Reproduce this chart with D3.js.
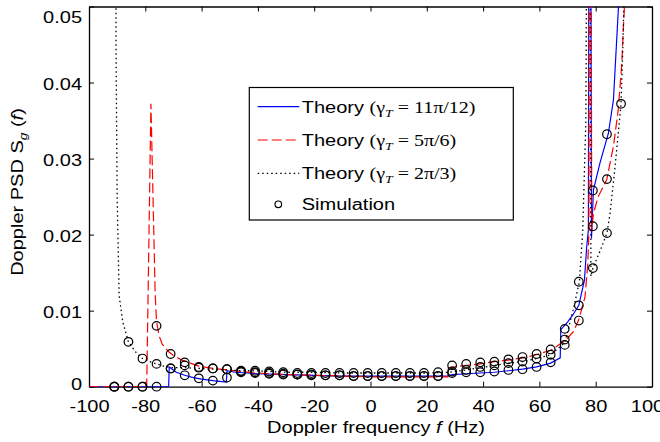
<!DOCTYPE html>
<html>
<head>
<meta charset="utf-8">
<script src="https://cdn.jsdelivr.net/npm/d3@7"></script>
<style>
  body { margin: 0; background: #fff; }
  text { font-family: "Liberation Sans", Arial, sans-serif; fill: #000; }
</style>
</head>
<body>
<div id="chart"></div>
<script>
let margin = ({top: 6.5, right: 8, bottom: 55.3, left: 89});
let width = 660 - margin.left - margin.right;
let height = 442 - margin.top - margin.bottom;

////////////////////////////////
//   Data
////////////////////////////////
let xTicks = [-100, -80, -60, -40, -20, 0, 20, 40, 60, 80, 100];
let yTicks = [0, 0.01, 0.02, 0.03, 0.04, 0.05];

// theory, gamma_T = 11pi/12 (blue, solid)
let blueF = [-100, -71.7, -71.5, -69, -66, -63, -60, -56, -51.2, -51, -48, -44, -40, -30, -20, -10, 0, 10, 20, 27.5,
  29, 34, 39, 44, 49, 54, 59, 64, 67.4, 67.6, 70, 72, 74, 76, 76.8, 77.4, 77.7, 78.1, 78.5, 79.2, 81.5, 84.5, 86.3, 88.1, 89];
let blueS = [0, 0, 0.0026, 0.0019, 0.0015, 0.0012, 0.0010, 0.0008, 0.0006, 0.0021, 0.0019, 0.0018, 0.0017, 0.0016, 0.0015, 0.0014, 0.0014, 0.0014, 0.0014, 0.0014,
  0.0016, 0.0017, 0.0018, 0.0019, 0.0021, 0.0023, 0.0026, 0.0031, 0.0038, 0.0075, 0.0085, 0.0095, 0.0107, 0.014, 0.0184, 0.0206, 0.09, 0.09, 0.0195, 0.0259, 0.0294, 0.0333, 0.0377, 0.05, 0.06];

// theory, gamma_T = 5pi/6 (red, dashed)
let redF = [-100, -79.5, -78.0, -76.5, -76, -75, -74, -72, -70, -67, -64, -61, -56, -51, -46, -41, -36, -30, -20, -10, 0, 10, 20, 27.5,
  27.7, 34, 39, 44, 49, 54, 59, 64, 69, 72, 74, 76.2, 77.2, 77.6, 77.8, 78.2, 78.6, 79.2, 80.9, 83.9, 86.3, 88, 89.2, 90.2, 90.6];
let redS = [0, 0, 0.0372, 0.0123, 0.0085, 0.0066, 0.0056, 0.0047, 0.0041, 0.0035, 0.0031, 0.0027, 0.0024, 0.0022, 0.0020, 0.0018, 0.0017, 0.0016, 0.0015, 0.0014, 0.0013, 0.0013, 0.0013, 0.0013,
  0.0025, 0.0028, 0.0030, 0.0033, 0.0035, 0.0038, 0.0042, 0.0048, 0.0060, 0.0072, 0.0088, 0.0118, 0.0162, 0.0206, 0.09, 0.09, 0.0206, 0.0228, 0.025, 0.0272, 0.0316, 0.0364, 0.0421, 0.05, 0.06];

// theory, gamma_T = 2pi/3 (black, dotted)
let blackF = [-90.6, -90.4, -90, -89.3, -88, -86, -83.5, -81, -78.5, -76, -73.5, -71, -66, -61, -56, -51, -46, -41, -36, -30, -20, -10, 0, 10, 20, 28,
  34, 39, 44, 49, 54, 59, 64, 69, 72, 74.2, 75.4, 76.5, 77.2, 77.8, 78.3, 79, 81.5, 84, 85.1, 86.9, 88, 89, 89.6, 90, 90.3];
let blackS = [0.09, 0.045, 0.025, 0.012, 0.0085, 0.0059, 0.0046, 0.0037, 0.0033, 0.0030, 0.0027, 0.0025, 0.0025, 0.0024, 0.0023, 0.0022, 0.0021, 0.0021, 0.0020, 0.0019, 0.0019, 0.0018, 0.0018, 0.0018, 0.0018, 0.0019,
  0.0022, 0.0025, 0.0028, 0.0031, 0.0033, 0.0037, 0.0042, 0.0058, 0.0101, 0.0138, 0.0206, 0.035, 0.09, 0.09, 0.0145, 0.0156, 0.0178, 0.0202, 0.0228, 0.029, 0.0333, 0.0372, 0.0443, 0.05, 0.06];

// simulation points
let simF = [-91, -86, -81, -76, -71, -66, -61, -56, -51, -46, -41, -36, -31, -26, -21, -16, -11, -6, -1,
  4, 9, 14, 19, 24, 29, 34, 39, 44, 49, 54, 59, 64, 69, 74, 79, 84, 89];
let simBlue = [0, 0, 0, 0, 0.0024, 0.0015, 0.0011, 0.0008, 0.0012, 0.0019, 0.0018, 0.0017, 0.0016, 0.0016, 0.0015, 0.0015, 0.0015, 0.0014, 0.0014,
  0.0014, 0.0014, 0.0014, 0.0014, 0.0014, 0.0018, 0.0019, 0.0019, 0.0020, 0.0022, 0.0023, 0.0026, 0.0032, 0.0076, 0.0107, 0.0258, 0.0332, 0.075];
let simRed = [0, 0, 0, 0.0080, 0.0043, 0.0032, 0.0026, 0.0024, 0.0023, 0.0020, 0.0019, 0.0018, 0.0017, 0.0016, 0.0016, 0.0015, 0.0015, 0.0014, 0.0014,
  0.0014, 0.0014, 0.0014, 0.0014, 0.0014, 0.0028, 0.0030, 0.0032, 0.0033, 0.0036, 0.0039, 0.0043, 0.0049, 0.0062, 0.0087, 0.0211, 0.0273, 0.075];
let simBlack = [0, 0.0059, 0.0037, 0.0030, 0.0024, 0.0028, 0.0025, 0.0024, 0.0023, 0.0021, 0.0021, 0.0020, 0.0019, 0.0018, 0.0018, 0.0018, 0.0018, 0.0018, 0.0018,
  0.0018, 0.0018, 0.0018, 0.0018, 0.0019, 0.0020, 0.0022, 0.0026, 0.0028, 0.0031, 0.0033, 0.0037, 0.0042, 0.0055, 0.0138, 0.0156, 0.0202, 0.0372];

let legendLabels = ["11π/12", "5π/6", "2π/3"];

/////////////////////////////
//   Setup Chart Elements
/////////////////////////////
let sx = 1.25; // horizontal stretch of the text in the original

let svg = d3.select("#chart")
  .append("svg")
  .attr("width", 660)
  .attr("height", 442)
  .append("g")
  .attr("transform", "translate(" + margin.left + ", " + margin.top + ")");

let x = d3.scaleLinear().domain([-100, 100]).range([0, width]);
let y = d3.scaleLinear().domain([0, 0.05]).range([height, 0]);

svg.append("clipPath").attr("id", "plotclip")
  .append("rect").attr("width", width).attr("height", height);

function styleAxis(g) {
  g.attr("font-size", 16).attr("font-family", '"Liberation Sans", Arial, sans-serif');
  g.select(".domain").attr("stroke", "#000").attr("stroke-width", 1.3);
  g.selectAll(".tick line").attr("stroke", "#000").attr("stroke-width", 1);
  g.selectAll(".tick text").attr("fill", "#000").attr("transform", "scale(" + sx + ",1)");
}

let xAxisG = svg.append("g")
  .attr("transform", "translate(0," + height + ")")
  .call(d3.axisBottom(x).tickValues(xTicks).tickSizeInner(-5).tickSizeOuter(0).tickPadding(13.6)
    .tickFormat(d => String(d)))
  .call(styleAxis);
// the last label sits a little left of its tick in the original
xAxisG.selectAll(".tick text").attr("x", d => d === 100 ? -4 : 0);

let yAxisG = svg.append("g")
  .call(d3.axisLeft(y).tickValues(yTicks).tickSizeInner(-5).tickSizeOuter(0).tickPadding(5.6)
    .tickFormat(d => d === 0 ? "0" : d3.format(".2f")(d)))
  .call(styleAxis);
// end labels are nudged inward, as in the original
yAxisG.selectAll(".tick text")
  .attr("dy", d => d === 0.05 ? "1.0em" : (d === 0 ? "0.15em" : "0.45em"));

svg.append("g")
  .call(d3.axisTop(x).tickValues(xTicks).tickSizeInner(-5).tickSizeOuter(0).tickFormat(""))
  .call(styleAxis);

svg.append("g")
  .attr("transform", "translate(" + width + ",0)")
  .call(d3.axisRight(y).tickValues(yTicks).tickSizeInner(-5).tickSizeOuter(0).tickFormat(""))
  .call(styleAxis);

///////////////////////////
//   Drawing the Chart
///////////////////////////
let line = d3.line().x(d => x(d[0])).y(d => y(d[1]));
let plot = svg.append("g").attr("clip-path", "url(#plotclip)");

let series = [
  {f: blueF, s: blueS, color: "#0000ff", dash: null, width: 1.2},
  {f: redF, s: redS, color: "#ff0000", dash: "10,4", width: 1.2},
  {f: blackF, s: blackS, color: "#000000", dash: "1.5,3", width: 1.3}
];

series.forEach(function(sr) {
  plot.append("path")
    .datum(d3.zip(sr.f, sr.s))
    .attr("fill", "none")
    .attr("stroke", sr.color)
    .attr("stroke-width", sr.width)
    .attr("stroke-dasharray", sr.dash)
    .attr("d", line);
});

let simPoints = [];
[simBlue, simRed, simBlack].forEach(function(vals) {
  vals.forEach(function(v, i) { if (v <= 0.051) simPoints.push([simF[i], v]); });
});

svg.append("g")
  .selectAll("circle")
  .data(simPoints)
  .enter()
  .append("circle")
    .attr("cx", d => x(d[0]))
    .attr("cy", d => y(d[1]))
    .attr("r", 4.3)
    .attr("fill", "none")
    .attr("stroke", "#000")
    .attr("stroke-width", 1.2);

////////////////
//   Legend
////////////////
let lg = svg.append("g").attr("transform", "translate(" + (249.3 - margin.left) + "," + (87.5 - margin.top) + ")");
lg.append("rect")
  .attr("width", 264).attr("height", 132.5)
  .attr("fill", "#fff").attr("stroke", "#000").attr("stroke-width", 1.2);

let rowY = [19.2, 52.5, 85.8, 116.8];
series.forEach(function(sr, i) {
  lg.append("line")
    .attr("x1", 8.4).attr("x2", 50)
    .attr("y1", rowY[i]).attr("y2", rowY[i])
    .attr("stroke", sr.color)
    .attr("stroke-width", sr.width)
    .attr("stroke-dasharray", sr.dash);
  let t = lg.append("text")
    .attr("transform", "translate(52.4," + (rowY[i] + 5.8) + ") scale(" + sx + ",1)")
    .attr("font-size", 16);
  t.append("tspan").text("Theory ");
  t.append("tspan").attr("font-family", '"Liberation Serif", "Times New Roman", serif').text("(γ");
  t.append("tspan").attr("font-family", '"Liberation Serif", serif').attr("font-style", "italic")
    .attr("font-size", 11).attr("dy", 4).text("T");
  t.append("tspan").attr("font-family", '"Liberation Serif", serif').attr("dy", -4)
    .text(" = " + legendLabels[i] + ")");
});

lg.append("circle")
  .attr("cx", 29).attr("cy", rowY[3])
  .attr("r", 3.3).attr("fill", "none").attr("stroke", "#000").attr("stroke-width", 1.2);
lg.append("text")
  .attr("transform", "translate(52.4," + (rowY[3] + 5.8) + ") scale(" + sx + ",1)")
  .attr("font-size", 16)
  .text("Simulation");

////////////////////
//   Axis Labels
////////////////////
let xl = svg.append("text")
  .attr("transform", "translate(" + (376 - margin.left) + ", " + (433.3 - margin.top) + ") scale(" + sx + ",1)")
  .style("text-anchor", "middle")
  .attr("font-size", 16);
xl.append("tspan").text("Doppler frequency ");
xl.append("tspan").attr("font-style", "italic").text("f");
xl.append("tspan").text(" (Hz)");

let yl = svg.append("text")
  .attr("transform", "translate(" + (23 - margin.left) + ", " + (192 - margin.top) + ") rotate(-90) scale(" + sx + ",1)")
  .style("text-anchor", "middle")
  .attr("font-size", 16);
yl.append("tspan").text("Doppler PSD S");
yl.append("tspan").attr("font-style", "italic").attr("font-size", 11).attr("dy", 4).text("g");
yl.append("tspan").attr("dy", -4).text(" (");
yl.append("tspan").attr("font-style", "italic").text("f");
yl.append("tspan").text(")");
</script>
</body>
</html>
